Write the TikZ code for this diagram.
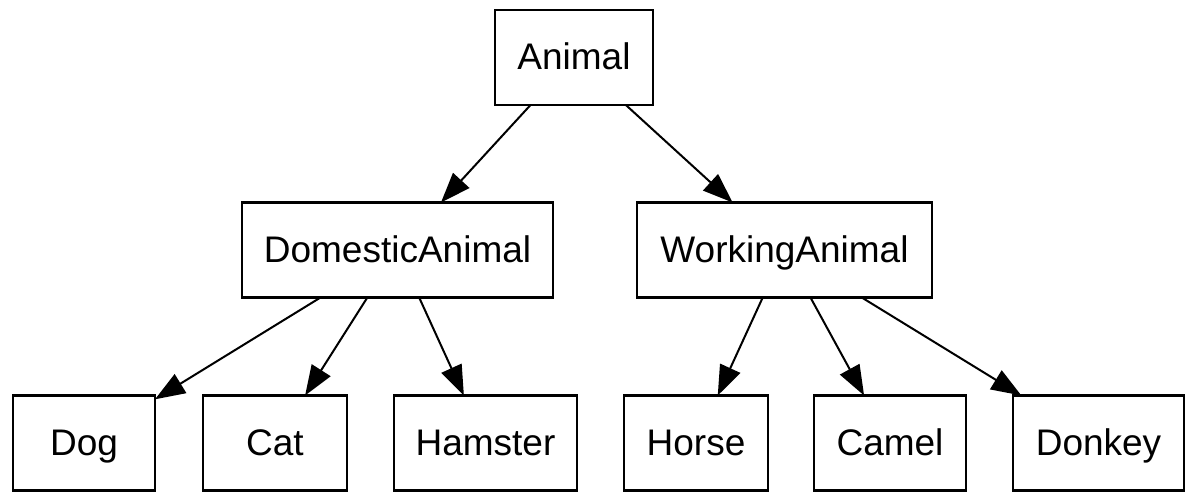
\documentclass[tikz,border=0pt]{standalone}
\usepackage{fontspec}
\setmainfont{Liberation Sans}
\usetikzlibrary{arrows.meta}
\begin{document}
\begin{tikzpicture}[x=1pt,y=-1pt,
  box/.style={draw, line width=2.2pt, rectangle, inner sep=0pt, outer sep=0pt,
    minimum height=95pt, text height=26pt, text depth=1pt,
    font=\fontsize{37}{40}\selectfont},
  edge/.style={line width=2pt, -{Triangle[length=30pt,width=22pt]}}]
\useasboundingbox (0,0) rectangle (1194,502);
\node[box, minimum width=158pt] (animal) at (574,57.5) {Animal};
\node[box, minimum width=311pt] (dom) at (397.5,250) {DomesticAnimal};
\node[box, minimum width=295pt] (work) at (784.5,250) {WorkingAnimal};
\node[box, minimum width=142pt] (dog) at (84,443) {Dog};
\node[box, minimum width=144pt] (cat) at (275,443) {Cat};
\node[box, minimum width=183pt] (ham) at (485.5,443) {Hamster};
\node[box, minimum width=144pt] (horse) at (696,443) {Horse};
\node[box, minimum width=152pt] (camel) at (890,443) {Camel};
\node[box, minimum width=171pt] (donkey) at (1098.5,443) {Donkey};
\draw[edge] (animal) -- (dom);
\draw[edge] (animal) -- (work);
\draw[edge] (dom) -- (dog);
\draw[edge] (dom) -- (cat);
\draw[edge] (dom) -- (ham);
\draw[edge] (work) -- (horse);
\draw[edge] (work) -- (camel);
\draw[edge] (work) -- (donkey);
\end{tikzpicture}
\end{document}
